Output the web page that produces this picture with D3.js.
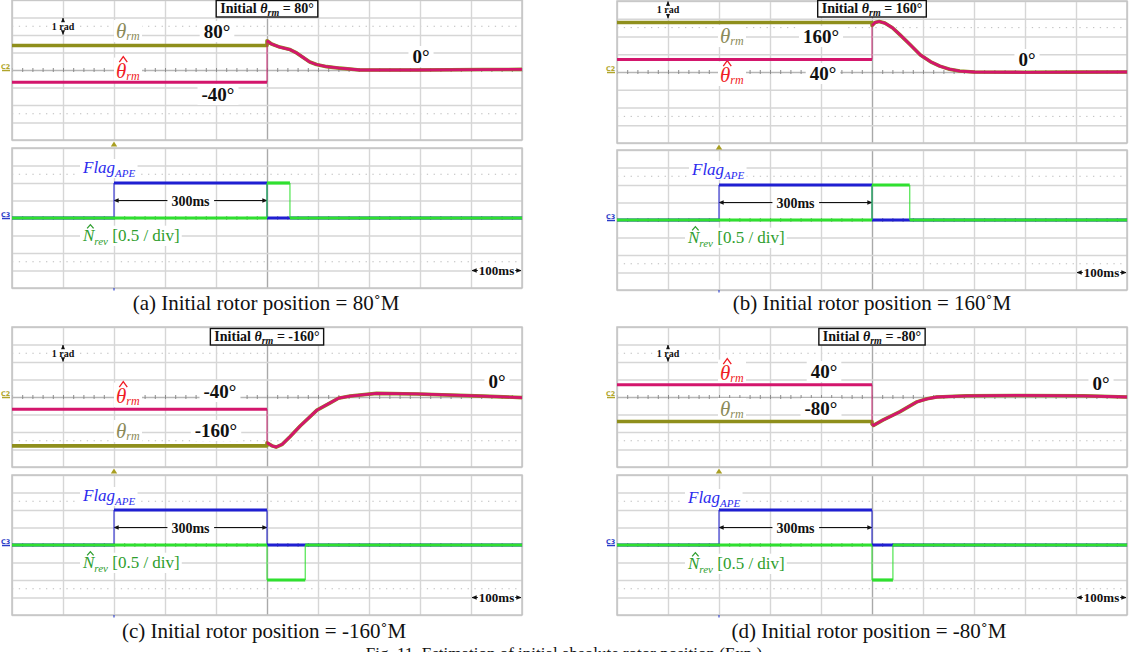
<!DOCTYPE html>
<html>
<head>
<meta charset="utf-8">
<script src="https://cdn.jsdelivr.net/npm/d3@7"></script>
<style>
  body { margin: 0; background: #fff; }
  svg { display: block; font-family: "Liberation Serif", "Times New Roman", serif; }
  text { white-space: pre; }
</style>
</head>
<body>
<svg id="fig" width="1129" height="652"></svg>
<script>
// Values read off the four scope shots. Time is in ms across the 1 s screen
// (100 ms/div), angles in degrees (1 rad/div), N_rev at 0.5/div.
const panelIds = ["a", "b", "c", "d"];
const thetaInit = [80, 160, -160, -80];      // real rotor position
const thetaHatInit = [-40, 40, -40, 40];     // estimate before the APE routine

// response once the flag drops, theta and its estimate lie on top of each other
const respA = [[500, 96], [509, 85], [525, 75], [545, 67], [558, 56], [571, 41], [584, 26], [597, 18],
               [617, 11], [643, 6], [682, 0], [793, 0], [924, 1.5], [1000, 2]];
const respB = [[500, 150], [506, 160], [514, 163], [525, 158], [540, 143], [555, 120], [575, 88],
               [595, 55], [615, 33], [633, 19], [652, 9], [672, 3], [700, 0], [800, -1], [900, -0.5], [1000, 0]];
const respC = [[500, -150], [510, -160], [518, -164], [530, -155], [545, -130], [565, -95], [598, -43],
               [624, -19], [640, -4], [663, 3], [715, 12], [794, 10], [924, 3], [1000, -2]];
const respD = [[500, -88], [503, -93], [522, -75], [555, -48], [588, -16], [608, -6], [627, 0],
               [686, 4], [784, 5], [914, 4], [1000, 0]];
const responses = [respA, respB, respC, respD];

const flagSteps = [[0, 0], [200, 1], [500, 0], [1000, 0]];   // Flag_APE high for 300 ms
const nrevLevel = [1, 1, -1, -1];
const nrevEnd = [545, 574, 575, 541];

const timeDivs = d3.range(0, 1001, 100);
const yDivs = d3.range(-4, 5, 1);

const captions = [
  "(a) Initial rotor position = 80˚M",
  "(b) Initial rotor position = 160˚M",
  "(c) Initial rotor position = -160˚M",
  "(d) Initial rotor position = -80˚M"
];
const figCaption = "Fig. 11. Estimation of initial absolute rotor position (Exp.)";

// where each scope shot sits in the figure
const layout = [
  { x0: 12, x1: 522, top: [0, 140], bot: [148, 288], box: [267, 13], rad: 1,
    th: [116, 38], thV: [217, 38], hat: [116, 78], hatV: [218, 101], zero: [421, 63],
    flag: [83, 173], nrev: [83, 241], cap: [266, 310] },
  { x0: 617, x1: 1127, top: [1, 143], bot: [150, 290], box: [872, 13], rad: 0,
    th: [720, 43], thV: [821, 43], hat: [720, 82], hatV: [823, 80], zero: [1027, 66],
    flag: [692, 175], nrev: [688, 243], cap: [872, 310] },
  { x0: 12, x1: 522, top: [327, 467], bot: [475, 615], box: [267, 341], rad: 1,
    th: [116, 438], thV: [216, 437], hat: [116, 403], hatV: [220, 398], zero: [497, 388],
    flag: [83, 501], nrev: [83, 568], cap: [264, 638] },
  { x0: 617, x1: 1127, top: [327, 467], bot: [475, 615], box: [872, 341], rad: 1,
    th: [720, 416], thV: [821, 415], hat: [720, 380], hatV: [824, 378], zero: [1101, 390],
    flag: [688, 503], nrev: [688, 569], cap: [869, 638] }
];

const OLIVE = "#8f8f1c", MAGENTA = "#d3166c", BLUE = "#1f1fd2", GREEN = "#2fe02f";

const svg = d3.select("#fig");
const defs = svg.append("defs");
defs.append("marker").attr("id", "ah")
  .attr("viewBox", "0 0 8 8").attr("refX", 7.5).attr("refY", 4)
  .attr("markerWidth", 5).attr("markerHeight", 5).attr("markerUnits", "userSpaceOnUse")
  .attr("orient", "auto-start-reverse")
  .append("path").attr("d", "M0,0.5 L8,4 L0,7.5 Z").attr("fill", "#111");

function drawScreen(g, tx, yd, x0, x1) {
  const s = g.append("g");
  const yTop = yd(4), yBot = yd(-4);
  s.append("rect").attr("x", x0).attr("y", yTop).attr("width", x1 - x0).attr("height", yBot - yTop)
    .attr("fill", "#fff");
  s.selectAll(".dots").data([-2.5, 2.5]).join("line")
    .attr("x1", x0).attr("x2", x1).attr("y1", d => yd(d)).attr("y2", d => yd(d))
    .attr("stroke", "#bcbcbc").attr("stroke-width", 1).attr("stroke-dasharray", "1.3,5.5");
  // division grid
  s.append("g").attr("transform", `translate(0,${yBot})`)
    .call(d3.axisBottom(tx).tickValues(timeDivs).tickSize(-(yBot - yTop)).tickFormat(""))
    .call(a => a.select(".domain").remove())
    .selectAll("line")
    .attr("stroke", d => d === 500 ? "#a9a9a9" : "#d6d6d6").attr("stroke-width", 1.4);
  s.append("g").attr("transform", `translate(${x0},0)`)
    .call(d3.axisLeft(yd).tickValues(yDivs).tickSize(-(x1 - x0)).tickFormat(""))
    .call(a => a.select(".domain").remove())
    .selectAll("line")
    .attr("stroke", d => d === 0 ? "#b6b6b6" : "#d6d6d6").attr("stroke-width", 1.4);
  // minor ticks along the horizontal centre line
  s.append("g").attr("transform", `translate(0,${yd(0) + 2})`)
    .call(d3.axisTop(tx).tickValues(d3.range(0, 1001, 20)).tickSize(4).tickFormat(""))
    .call(a => a.select(".domain").remove())
    .selectAll("line").attr("stroke", "#8c8c8c");
  s.append("rect").attr("x", x0).attr("y", yTop).attr("width", x1 - x0).attr("height", yBot - yTop)
    .attr("fill", "none").attr("stroke", "#c4c4c4").attr("stroke-width", 1.5);
}

// white patch behind a label, as in the original figure
function backed(g, padX, padY) {
  const b = g.node().getBBox();
  g.insert("rect", ":first-child")
    .attr("x", b.x - padX).attr("y", b.y - padY)
    .attr("width", b.width + 2 * padX).attr("height", b.height + 2 * padY)
    .attr("fill", "#fff");
  return g;
}

function symLabel(parent, x, y, o) {
  const g = parent.append("g");
  const t = g.append("text").attr("x", x).attr("y", y).attr("fill", o.color)
    .style("font-size", o.size + "px");
  const base = t.append("tspan").style("font-style", "italic").text(o.base);
  t.append("tspan").style("font-style", "italic").style("font-size", o.subSize + "px")
    .attr("dy", o.subDy).text(o.sub);
  if (o.rest) t.append("tspan").attr("dy", -o.subDy).text(o.rest);
  if (o.hat) {
    const w = base.node().getComputedTextLength();
    const cx = x + w / 2 + o.size * 0.1;
    const hw = o.size * 0.19, y1 = y - o.size * o.hat[0], y2 = y - o.size * o.hat[1];
    g.append("path").attr("d", `M${cx - hw},${y1} L${cx},${y2} L${cx + hw},${y1}`)
      .attr("fill", "none").attr("stroke", o.color).attr("stroke-width", 1.3);
  }
  return backed(g, 2, -1);
}

function boldLabel(parent, x, y, txt, size) {
  const g = parent.append("g");
  g.append("text").attr("x", x).attr("y", y).attr("text-anchor", "middle")
    .style("font-weight", "bold").style("font-size", size + "px").attr("fill", "#111").text(txt);
  return backed(g, 4, 0);
}

function drawSteps(g, steps, tx, yv, color, w) {
  const pairs = d3.pairs(steps);
  const flats = pairs.map(([p, q]) => [[p[0], p[1]], [q[0], p[1]]]);
  const edges = pairs.filter(([p, q]) => p[1] !== q[1]).map(([p, q]) => [[q[0], p[1]], [q[0], q[1]]]);
  const line = d3.line().x(d => tx(d[0])).y(d => yv(d[1]));
  g.selectAll(null).data(edges).join("path").attr("d", line)
    .attr("fill", "none").attr("stroke", color).attr("stroke-width", 1.2).attr("opacity", 0.85);
  g.selectAll(null).data(flats).join("path").attr("d", line)
    .attr("fill", "none").attr("stroke", color).attr("stroke-width", w);
}

layout.forEach((L, i) => {
  const g = svg.append("g").attr("class", "panel-" + panelIds[i]);
  const tx = d3.scaleLinear().domain([0, 1000]).range([L.x0, L.x1]);
  const ydTop = d3.scaleLinear().domain([-4, 4]).range([L.top[1], L.top[0]]);
  const ydBot = d3.scaleLinear().domain([-4, 4]).range([L.bot[1], L.bot[0]]);
  const yAng = deg => ydTop(deg * Math.PI / 180);   // 1 rad/div
  const yLvl = v => ydBot(v / 0.5);                 // 0.5/div

  drawScreen(g, tx, ydTop, L.x0, L.x1);
  drawScreen(g, tx, ydBot, L.x0, L.x1);

  // channel markers and trigger position
  g.append("text").attr("x", L.x0 - 11).attr("y", ydTop(0) - 1.5).attr("fill", "#b0a52c")
    .style("font-size", "6.5px").style("font-weight", "bold").style("font-family", "DejaVu Sans").text("C2");
  g.append("line").attr("x1", L.x0 - 10).attr("x2", L.x0 - 2).attr("y1", ydTop(0) + 0.5).attr("y2", ydTop(0) + 0.5)
    .attr("stroke", "#b0a52c").attr("stroke-width", 1.5);
  g.append("text").attr("x", L.x0 - 11).attr("y", ydBot(0) - 1.5).attr("fill", "#2a3cc8")
    .style("font-size", "6.5px").style("font-weight", "bold").style("font-family", "DejaVu Sans").text("C3");
  g.append("line").attr("x1", L.x0 - 10).attr("x2", L.x0 - 2).attr("y1", ydBot(0) + 0.5).attr("y2", ydBot(0) + 0.5)
    .attr("stroke", "#2a3cc8").attr("stroke-width", 1.5);
  const trig = tx(flagSteps[1][0]);
  g.append("path").attr("d", `M${trig},${L.top[1] + 1.5} l3.2,5 l-6.4,0 z`).attr("fill", "#a89e22");
  g.append("line").attr("x1", trig).attr("x2", trig).attr("y1", L.bot[1]).attr("y2", L.bot[1] + 2.5)
    .attr("stroke", "#3a4ad0").attr("stroke-width", 1.2);

  // ---- top screen labels ----
  const bt = g.append("text").attr("x", L.box[0]).attr("y", L.box[1]).attr("text-anchor", "middle")
    .style("font-weight", "bold").style("font-size", "14px").attr("fill", "#111");
  bt.append("tspan").text("Initial ");
  bt.append("tspan").style("font-style", "italic").text("θ");
  bt.append("tspan").style("font-style", "italic").style("font-size", "10px").attr("dy", 3).text("rm");
  bt.append("tspan").attr("dy", -3).text(" = " + thetaInit[i] + "°");
  const bb = bt.node().getBBox();
  g.insert("rect", () => bt.node())
    .attr("x", bb.x - 4).attr("y", L.box[1] - 12.5).attr("width", bb.width + 8).attr("height", 16.5)
    .attr("fill", "#fff").attr("stroke", "#111").attr("stroke-width", 1.4);

  const radX = tx(100), rA = ydTop(4 - L.rad), rB = ydTop(3 - L.rad);
  g.append("line").attr("x1", radX).attr("x2", radX).attr("y1", (rA + rB) / 2).attr("y2", rA + 0.5)
    .attr("stroke", "#111").attr("stroke-width", 1).attr("marker-end", "url(#ah)");
  g.append("line").attr("x1", radX).attr("x2", radX).attr("y1", (rA + rB) / 2).attr("y2", rB - 0.5)
    .attr("stroke", "#111").attr("stroke-width", 1).attr("marker-end", "url(#ah)");
  boldLabel(g, radX, (rA + rB) / 2 + 3.5, "1 rad", 10).select("rect").attr("y", (rA + rB) / 2 - 4).attr("height", 8);

  symLabel(g, L.th[0], L.th[1], { base: "θ", sub: "rm", color: "#8b8a58", size: 21, subSize: 12, subDy: 2 });
  symLabel(g, L.hat[0], L.hat[1], { base: "θ", sub: "rm", color: "#f01c24", size: 21, subSize: 12, subDy: 2, hat: [0.76, 1.02] });
  boldLabel(g, L.thV[0], L.thV[1], thetaInit[i] + "°", 19);
  boldLabel(g, L.hatV[0], L.hatV[1], thetaHatInit[i] + "°", 19);
  boldLabel(g, L.zero[0], L.zero[1], "0°", 19);

  // ---- bottom screen labels ----
  symLabel(g, L.flag[0], L.flag[1], { base: "Flag", sub: "APE", color: "#2b2bee", size: 17, subSize: 11, subDy: 4 });
  symLabel(g, L.nrev[0], L.nrev[1], { base: "N", sub: "rev", rest: " [0.5 / div]", color: "#2e9e2e", size: 17, subSize: 11, subDy: 4, hat: [0.74, 0.96] });

  const arrY = yLvl(0.5);
  g.append("line").attr("x1", tx(flagSteps[1][0])).attr("x2", tx(flagSteps[2][0])).attr("y1", arrY).attr("y2", arrY)
    .attr("stroke", "#111").attr("stroke-width", 1)
    .attr("marker-start", "url(#ah)").attr("marker-end", "url(#ah)");
  boldLabel(g, tx((flagSteps[1][0] + flagSteps[2][0]) / 2), arrY + 5, (flagSteps[2][0] - flagSteps[1][0]) + "ms", 14);

  const msY = ydBot(-3);
  const ms = boldLabel(g, tx(950), msY + 4.5, "100ms", 13);
  const mb = ms.select("text").node().getBBox();
  g.append("line").attr("x1", mb.x - 1).attr("x2", tx(900) + 1).attr("y1", msY).attr("y2", msY)
    .attr("stroke", "#111").attr("stroke-width", 1).attr("marker-end", "url(#ah)");
  g.append("line").attr("x1", mb.x + mb.width + 1).attr("x2", tx(1000) - 1).attr("y1", msY).attr("y2", msY)
    .attr("stroke", "#111").attr("stroke-width", 1).attr("marker-end", "url(#ah)");

  // ---- traces ----
  const resp = responses[i];
  const angLine = d3.line().x(d => tx(d[0])).y(d => yAng(d[1]));
  g.append("path").attr("d", angLine([[0, thetaInit[i]], [500, thetaInit[i]]].concat(resp)))
    .attr("fill", "none").attr("stroke", OLIVE).attr("stroke-width", 3.6).attr("stroke-linejoin", "round");
  g.append("path").attr("d", angLine([[0, thetaHatInit[i]], [500, thetaHatInit[i]]]))
    .attr("fill", "none").attr("stroke", MAGENTA).attr("stroke-width", 3);
  g.append("path").attr("d", angLine([[500, thetaHatInit[i]], [500, resp[0][1]]]))
    .attr("fill", "none").attr("stroke", MAGENTA).attr("stroke-width", 1.1).attr("opacity", 0.8);
  g.append("path").attr("d", angLine(resp))
    .attr("fill", "none").attr("stroke", MAGENTA).attr("stroke-width", 2.8).attr("stroke-linejoin", "round");

  drawSteps(g, flagSteps, tx, yLvl, BLUE, 3);
  const nrevSteps = [[0, 0], [500, nrevLevel[i]], [nrevEnd[i], 0], [1000, 0]];
  drawSteps(g, nrevSteps, tx, yLvl, GREEN, 3.2);

  // sub-caption
  g.append("text").attr("x", L.cap[0]).attr("y", L.cap[1]).attr("text-anchor", "middle")
    .style("font-size", "21px").attr("fill", "#111").text(captions[i]);
});

// figure caption, cut by the bottom edge as in the source
svg.append("text").attr("x", 564).attr("y", 659).attr("text-anchor", "middle")
  .style("font-size", "17px").attr("fill", "#111").text(figCaption);
</script>
</body>
</html>
